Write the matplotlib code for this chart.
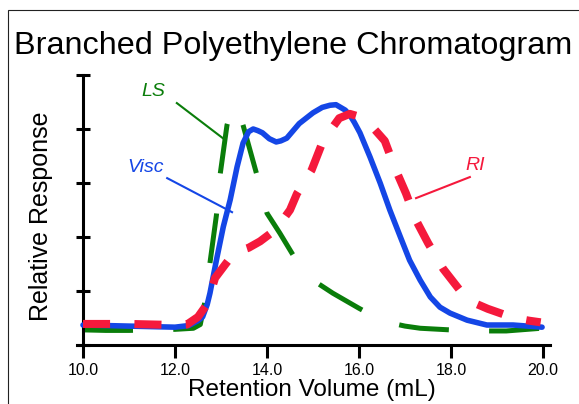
import matplotlib.pyplot as plt
from matplotlib.patches import Rectangle

plt.rcParams['font.family'] = ['Liberation Sans', 'DejaVu Sans']
plt.rcParams['lines.scale_dashes'] = False

# Visc (blue)
visc_x = [10.0, 10.5, 11.0, 11.5, 12.0, 12.3, 12.5, 12.6, 12.7, 12.76, 12.9, 13.05, 13.2,
          13.35, 13.48, 13.6, 13.7, 13.8, 13.9, 14.05, 14.2, 14.3, 14.43, 14.55, 14.7,
          14.85, 15.0, 15.2, 15.37, 15.5, 15.58, 15.7, 15.8, 15.9, 16.02, 16.24, 16.46,
          16.67, 16.9, 17.1, 17.33, 17.55, 17.76, 17.98, 18.35, 18.78, 19.35, 19.98]
visc_y = [0.37, 0.36, 0.35, 0.34, 0.33, 0.36, 0.45, 0.52, 0.75, 0.96, 1.57, 2.19, 2.69,
          3.3, 3.74, 3.95, 4.0, 3.97, 3.93, 3.82, 3.76, 3.78, 3.83, 3.95, 4.1,
          4.2, 4.3, 4.4, 4.44, 4.45, 4.41, 4.35, 4.26, 4.12, 3.93, 3.48, 3.0,
          2.5, 2.0, 1.57, 1.2, 0.89, 0.7, 0.59, 0.46, 0.37, 0.37, 0.33]

# RI (red)
ri_x = [10.0, 11.0, 12.0, 12.26, 12.5, 12.7, 12.87, 13.1, 13.3, 13.6, 13.85, 14.1, 14.33,
        14.5, 14.65, 14.97, 15.2, 15.4, 15.57, 15.8, 16.04, 16.3, 16.56, 16.78, 17.02,
        17.24, 17.5, 17.83, 18.26, 18.5, 18.8, 19.37, 19.7, 19.95]
ri_y = [0.39, 0.39, 0.37, 0.38, 0.52, 0.76, 1.24, 1.5, 1.72, 1.8, 1.92, 2.08, 2.3,
        2.5, 2.8, 3.24, 3.74, 4.0, 4.2, 4.28, 4.22, 4.03, 3.78, 3.28, 2.81,
        2.31, 1.89, 1.41, 0.94, 0.78, 0.67, 0.5, 0.45, 0.42]

# LS (green)
ls_x = [10.0, 10.5, 11.0, 11.5, 12.0, 12.4, 12.55, 12.65, 12.76, 12.9, 12.98, 13.13, 13.22,
        13.3, 13.38, 13.48, 13.78, 14.0, 14.28, 14.67, 15.0, 15.43, 16.0, 16.52, 17.0,
        17.33, 18.41, 19.2, 19.96]
ls_y = [0.28, 0.27, 0.27, 0.28, 0.29, 0.31, 0.38, 0.8, 1.52, 2.4, 3.15, 4.07, 4.35,
        4.42, 4.35, 4.07, 3.15, 2.44, 2.07, 1.52, 1.2, 0.96, 0.68, 0.44, 0.35,
        0.31, 0.26, 0.26, 0.31]

x_ticks = [10.0, 12.0, 14.0, 16.0, 18.0, 20.0]

blue = '#1446e6'
red = '#f5193c'
green = '#0a7d0a'

fig = plt.figure(figsize=(5.79, 4.04), dpi=100)
# axis line runs from px 77 to 550, x = 10 sits at px 83
ax = fig.add_axes([77 / 579, 59 / 404, 473 / 579, 270 / 404])

ax.plot(ls_x, ls_y, color=green, lw=3.6, dashes=(36, 29), solid_capstyle='butt',
        dash_capstyle='butt', zorder=2)
ax.plot(visc_x, visc_y, color=blue, lw=4, solid_capstyle='round', zorder=3)
ax.plot(ri_x, ri_y, color=red, lw=5.8, dashes=(19.5, 17.5), dash_capstyle='butt', zorder=4)

# labels with pointer lines
ax.text(11.52, 4.69, 'LS', color=green, fontsize=14, style='italic', ha='center', va='center')
ax.plot([12.04, 13.04], [4.48, 3.83], color=green, lw=1.5)
ax.text(11.35, 3.28, 'Visc', color=blue, fontsize=14, style='italic', ha='center', va='center')
ax.plot([11.83, 13.24], [3.09, 2.46], color=blue, lw=1.5)
ax.text(18.52, 3.33, 'RI', color=red, fontsize=14, style='italic', ha='center', va='center')
ax.plot([18.41, 17.24], [3.11, 2.72], color=red, lw=1.5)

ax.set_xlim(10 - 6 / 46, 20 + 7 / 46)
ax.set_ylim(0, 5)
ax.spines['left'].set_position(('data', 10))
ax.spines['top'].set_visible(False)
ax.spines['right'].set_visible(False)
ax.spines['left'].set_linewidth(2.2)
ax.spines['bottom'].set_linewidth(2.2)

ax.set_xticks(x_ticks)
ax.set_xticklabels(['%.1f' % t for t in x_ticks], fontsize=11.5)
ax.set_yticks([0, 1, 2, 3, 4, 5])
ax.set_yticklabels([])
ax.tick_params(axis='x', direction='out', length=9.5, width=2.2, pad=3.5)
ax.tick_params(axis='y', direction='inout', length=10, width=2.2)
ax.patch.set_visible(False)

fig.text(293 / 579, 350 / 404, 'Branched Polyethylene Chromatogram', fontsize=23.3,
         ha='center', va='baseline')
fig.text(41 / 579, 1 - 216 / 404, 'Relative Response', fontsize=18, rotation=90,
         ha='center', va='center')
fig.text(312 / 579, 8 / 404, 'Retention Volume (mL)', fontsize=17.5, ha='center', va='baseline')

# frame around the figure, only left and top edges are visible
fig.patches.append(Rectangle((8 / 579, -0.1), 1.2, 394 / 404 + 0.1, transform=fig.transFigure,
                             fill=False, edgecolor='#222222', lw=0.8))

fig.savefig('out.png', dpi=100)
